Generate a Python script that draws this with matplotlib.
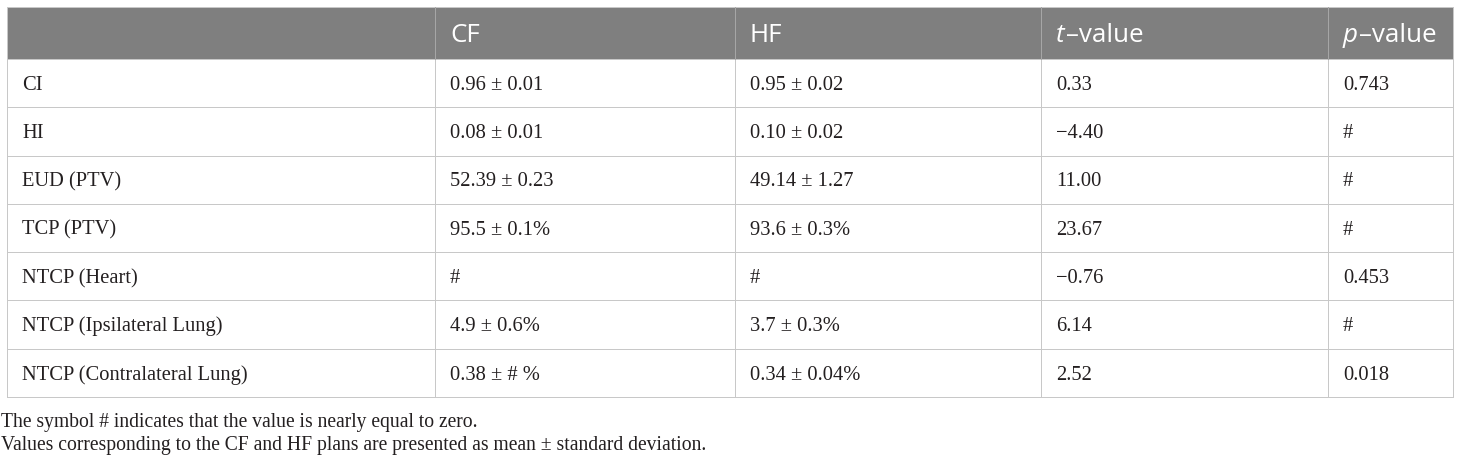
import matplotlib
matplotlib.use("Agg")
import matplotlib.pyplot as plt
from matplotlib.patches import Rectangle
from matplotlib.lines import Line2D

# ---------------- data ----------------
columns = ["", "CF", "HF", "t–value", "p–value"]
metrics = ["CI", "HI", "EUD (PTV)", "TCP (PTV)", "NTCP (Heart)",
           "NTCP (Ipsilateral Lung)", "NTCP (Contralateral Lung)"]
cf_values = ["0.96 ± 0.01", "0.08 ± 0.01", "52.39 ± 0.23", "95.5 ± 0.1%", "#",
             "4.9 ± 0.6%", "0.38 ± # %"]
hf_values = ["0.95 ± 0.02", "0.10 ± 0.02", "49.14 ± 1.27", "93.6 ± 0.3%", "#",
             "3.7 ± 0.3%", "0.34 ± 0.04%"]
t_values = ["0.33", "−4.40", "11.00", "23.67", "−0.76", "6.14", "2.52"]
p_values = ["0.743", "#", "#", "#", "0.453", "#", "0.018"]
footnotes = ["The symbol # indicates that the value is nearly equal to zero.",
             "Values corresponding to the CF and HF plans are presented as mean ± standard deviation."]

# ---------------- layout (pixels) ----------------
W, H, DPI = 1460, 459, 100
col_edges = [7, 435, 735, 1041, 1328, 1453]
pad = 15
header_top, header_bottom = 7, 59
row_h = (397 - 59) / 7
header_color = "#7f7f7f"
grid_color = "#c8c8c8"
header_sep = "#a6a6a6"
text_color = "#231f20"
serif = ["Liberation Serif", "DejaVu Serif"]
sans = ["Open Sans", "DejaVu Sans"]

fig = plt.figure(figsize=(W / DPI, H / DPI), dpi=DPI)
ax = fig.add_axes([0, 0, 1, 1])
ax.set_xlim(0, W)
ax.set_ylim(H, 0)
ax.axis("off")
renderer = fig.canvas.get_renderer()


def text_width(s, family, size, style="normal"):
    t = fig.text(0, 0, s, fontfamily=family, fontsize=size, style=style)
    w = t.get_window_extent(renderer).width
    t.remove()
    return w


def fit(s, family, target):
    return 100.0 * target / text_width(s, family, 100)


body_size = fit("NTCP (Contralateral Lung)", serif, 226)
head_size = fit("t–value", sans, 87)
foot_size = fit(footnotes[1], serif, 706)

px = 72.0 / DPI  # points per pixel
body_cap = 0.66 * body_size / px
head_cap = 0.714 * head_size / px

# header background
ax.add_patch(Rectangle((col_edges[0], header_top), col_edges[-1] - col_edges[0],
                       header_bottom - header_top, facecolor=header_color,
                       edgecolor="none", zorder=1))

n = len(metrics)
row_tops = [header_bottom + i * row_h for i in range(n + 1)]

# horizontal grid lines
for y in [header_top] + row_tops:
    ax.add_line(Line2D([col_edges[0], col_edges[-1]], [y, y], color=grid_color,
                       lw=1.0 * px, zorder=2))
# vertical lines
for i, x in enumerate(col_edges):
    ax.add_line(Line2D([x, x], [header_bottom, row_tops[-1]], color=grid_color,
                       lw=1.0 * px, zorder=2))
    ax.add_line(Line2D([x, x], [header_top, header_bottom],
                       color=(grid_color if i in (0, len(col_edges) - 1) else header_sep),
                       lw=1.0 * px, zorder=2))

# header texts
hy = (header_top + header_bottom) / 2 + head_cap / 2
for j, label in enumerate(columns):
    if not label:
        continue
    x = col_edges[j] + pad
    if label[0] in "tp" and label[1] == "–":
        ax.text(x, hy, label[0], fontfamily=sans, fontsize=head_size, style="italic",
                color="white", va="baseline", ha="left", zorder=3)
        x += text_width(label[0], sans, head_size, style="italic") + 1
        label = label[1:]
    ax.text(x, hy, label, fontfamily=sans, fontsize=head_size, color="white",
            va="baseline", ha="left", zorder=3)

# body texts
table_cols = [metrics, cf_values, hf_values, t_values, p_values]
for i in range(n):
    yc = (row_tops[i] + row_tops[i + 1]) / 2 + body_cap / 2
    for j, col in enumerate(table_cols):
        ax.text(col_edges[j] + pad, yc, col[i], fontfamily=serif, fontsize=body_size,
                color=text_color, va="baseline", ha="left", zorder=3)

# footnotes
for k, (s, yb) in enumerate(zip(footnotes, [427, 450])):
    ax.text(1, yb, s, fontfamily=serif, fontsize=foot_size, color=text_color,
            va="baseline", ha="left", zorder=3)

fig.savefig("out.png", dpi=DPI, facecolor="white")
